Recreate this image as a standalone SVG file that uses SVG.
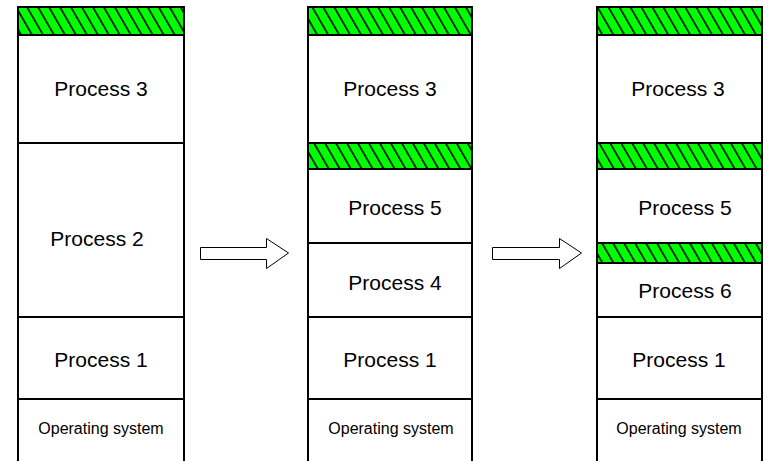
<svg xmlns="http://www.w3.org/2000/svg" width="768" height="461" viewBox="0 0 768 461">
  <defs>
    <!-- diagonal hatching for free memory holes -->
    <pattern id="hatch" patternUnits="userSpaceOnUse" width="9.5" height="10" patternTransform="rotate(-30)">
      <rect x="0" y="0" width="9.5" height="10" fill="#00ff00"/>
      <rect x="0" y="0" width="1.6" height="10" fill="#000"/>
    </pattern>
    <style>
      .seg { fill: #fff; stroke: #000; stroke-width: 2; }
      .hole { fill: url(#hatch); stroke: #000; stroke-width: 2; }
      .lbl { font-family: "Liberation Sans", Arial, sans-serif; font-size: 21px; fill: #000; text-anchor: middle; }
      .os { font-family: "Liberation Sans", Arial, sans-serif; font-size: 16px; fill: #000; text-anchor: middle; }
      .arrow { fill: #fff; stroke: #000; stroke-width: 1; }
    </style>
  </defs>
  <rect width="768" height="461" fill="#fff"/>

  <!-- memory map 1 -->
  <g id="m1-hole-top"><rect class="hole" x="18" y="7" width="166" height="28"/></g>
  <g id="m1-p3"><rect class="seg" x="18" y="35" width="166" height="108"/><text class="lbl" x="101" y="96">Process 3</text></g>
  <g id="m1-p2"><rect class="seg" x="18" y="143" width="166" height="174"/><text class="lbl" x="97" y="246">Process 2</text></g>
  <g id="m1-p1"><rect class="seg" x="18" y="317" width="166" height="82"/><text class="lbl" x="101" y="367">Process 1</text></g>
  <g id="m1-os"><rect class="seg" x="18" y="399" width="166" height="70"/><text class="os" x="101" y="434">Operating system</text></g>

  <!-- memory map 2 -->
  <g id="m2-hole-top"><rect class="hole" x="308" y="7" width="164" height="28"/></g>
  <g id="m2-p3"><rect class="seg" x="308" y="35" width="164" height="108"/><text class="lbl" x="390" y="96">Process 3</text></g>
  <g id="m2-hole-mid"><rect class="hole" x="308" y="143" width="164" height="26"/></g>
  <g id="m2-p5"><rect class="seg" x="308" y="169" width="164" height="74"/><text class="lbl" x="395" y="215">Process 5</text></g>
  <g id="m2-p4"><rect class="seg" x="308" y="243" width="164" height="74"/><text class="lbl" x="395" y="290">Process 4</text></g>
  <g id="m2-p1"><rect class="seg" x="308" y="317" width="164" height="82"/><text class="lbl" x="390" y="367">Process 1</text></g>
  <g id="m2-os"><rect class="seg" x="308" y="399" width="164" height="70"/><text class="os" x="391" y="434">Operating system</text></g>

  <!-- memory map 3 -->
  <g id="m3-hole-top"><rect class="hole" x="597" y="7" width="165" height="28"/></g>
  <g id="m3-p3"><rect class="seg" x="597" y="35" width="165" height="108"/><text class="lbl" x="678" y="96">Process 3</text></g>
  <g id="m3-hole-mid"><rect class="hole" x="597" y="143" width="165" height="26"/></g>
  <g id="m3-p5"><rect class="seg" x="597" y="169" width="165" height="74"/><text class="lbl" x="685" y="215">Process 5</text></g>
  <g id="m3-hole-low"><rect class="hole" x="597" y="243" width="165" height="20"/></g>
  <g id="m3-p6"><rect class="seg" x="597" y="263" width="165" height="54"/><text class="lbl" x="685" y="298">Process 6</text></g>
  <g id="m3-p1"><rect class="seg" x="597" y="317" width="165" height="82"/><text class="lbl" x="679" y="367">Process 1</text></g>
  <g id="m3-os"><rect class="seg" x="597" y="399" width="165" height="70"/><text class="os" x="679" y="434">Operating system</text></g>

  <!-- transition arrows -->
  <g id="connectors">
    <path class="arrow" d="M200.5,247.5 H266.5 V238.5 L288.5,253 L266.5,268.5 V259.5 H200.5 Z"/>
    <path class="arrow" d="M492.5,247.5 H559.5 V238.5 L581.5,253 L559.5,268.5 V259.5 H492.5 Z"/>
  </g>
</svg>
